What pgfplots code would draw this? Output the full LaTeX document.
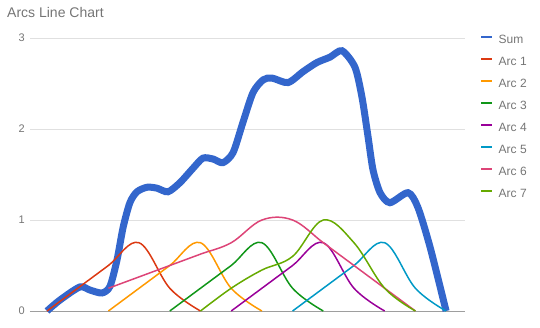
\documentclass[border=0pt]{standalone}
\usepackage{fontspec}
\setmainfont{Liberation Sans}
\usepackage{pgfplots}
\pgfplotsset{compat=1.18}
\definecolor{csum}{HTML}{3366CC}
\definecolor{ca}{HTML}{DC3912}
\definecolor{cb}{HTML}{FF9900}
\definecolor{cc}{HTML}{109618}
\definecolor{cd}{HTML}{990099}
\definecolor{ce}{HTML}{0099C6}
\definecolor{cf}{HTML}{DD4477}
\definecolor{cg}{HTML}{66AA00}
\definecolor{labc}{HTML}{757575}
\definecolor{gridc}{HTML}{E0E0E0}
\definecolor{basec}{HTML}{9E9E9E}
\begin{document}
\begin{tikzpicture}
\useasboundingbox (-30pt,-16pt) rectangle (510pt,311pt);
\begin{axis}[
  width=435pt, height=273pt, scale only axis,
  xmin=-0.5537, xmax=13.616, ymin=0, ymax=3,
  clip=false,
  axis line style={draw=none},
  major tick length=0pt,
  xtick=\empty,
  ytick={0,1,2,3},
  ymajorgrids,
  grid style={color=gridc, line width=1pt},
  extra y ticks={0}, extra y tick labels={},
  extra y tick style={grid style={color=basec, line width=1pt}},
  yticklabel style={font=\fontsize{11}{13}\selectfont, text=labc, inner sep=0pt, xshift=-5pt},
  /pgf/number format/assume math mode=true,
  legend cell align=left,
  legend style={draw=none, fill=none, at={(1.0345,1.018)}, anchor=north west,
    font=\fontsize{12}{14}\selectfont, text=labc, row sep=8pt, column sep=4pt, inner sep=0pt,
    nodes={inner sep=1pt, text height=9pt, text depth=3pt}},
  legend image code/.code={\draw[#1,line width=2.5pt] (0pt,3.5pt) -- (11pt,3.5pt);},
  every axis plot/.append style={smooth, tension=0.6, no markers},
]
\addplot[csum, line width=7pt, tension=0.45] coordinates {
(0,0) (0.42,0.12) (1.07,0.264) (1.40,0.23) (1.79,0.198) (2.05,0.27) (2.28,0.56) (2.48,0.92) (2.70,1.19) (2.93,1.31) (3.26,1.36) (3.58,1.35) (3.94,1.31) (4.33,1.41) (4.76,1.57) (5.08,1.68) (5.41,1.67) (5.73,1.63) (6.06,1.74) (6.38,2.07) (6.71,2.40) (7.04,2.54) (7.33,2.56) (7.85,2.51) (8.34,2.63) (8.79,2.73) (9.22,2.79) (9.61,2.86) (10.03,2.68) (10.26,2.35) (10.46,1.91) (10.62,1.55) (10.85,1.30) (11.17,1.19) (11.76,1.30) (12.08,1.14) (12.48,0.70) (13,0)};
\addlegendentry{Sum}
\addplot[ca, line width=1.5pt] coordinates {(0,0) (1,0.25) (2,0.5) (3,0.75) (4,0.25) (5,0)};
\addlegendentry{Arc 1}
\addplot[cb, line width=1.5pt] coordinates {(2,0) (3,0.25) (4,0.5) (5,0.75) (6,0.25) (7,0)};
\addlegendentry{Arc 2}
\addplot[cc, line width=1.5pt] coordinates {(4,0) (5,0.25) (6,0.5) (7,0.75) (8,0.25) (9,0)};
\addlegendentry{Arc 3}
\addplot[cd, line width=1.5pt] coordinates {(6,0) (7,0.25) (8,0.5) (9,0.75) (10,0.25) (11,0)};
\addlegendentry{Arc 4}
\addplot[ce, line width=1.5pt] coordinates {(8,0) (9,0.25) (10,0.5) (11,0.75) (12,0.25) (13,0)};
\addlegendentry{Arc 5}
\addplot[cf, line width=1.5pt] coordinates {(2,0.25) (3,0.375) (4,0.5) (5,0.625) (6,0.75) (7,1) (8,1) (9,0.75) (10,0.5) (11,0.25) (12,0)};
\addlegendentry{Arc 6}
\addplot[cg, line width=1.5pt] coordinates {(5,0) (6,0.25) (7,0.45) (8,0.6) (9,1) (10,0.75) (11,0.25) (12,0)};
\addlegendentry{Arc 7}
\end{axis}
\node[anchor=base west, font=\fontsize{14}{16}\selectfont, text=labc, inner sep=0pt] at (-23pt,293pt) {Arcs Line Chart};
\end{tikzpicture}
\end{document}
